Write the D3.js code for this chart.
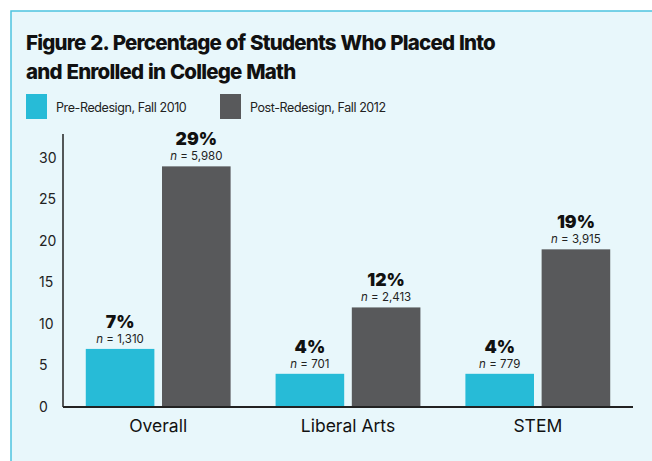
<!DOCTYPE html>
<html>
<head>
<meta charset="utf-8">
<script src="https://cdn.jsdelivr.net/npm/d3@7"></script>
<style>
  body { margin: 0; background: #fff; }
  svg { display: block; }
</style>
</head>
<body>
<svg width="652" height="461"></svg>
<script>
var categories = ["Overall", "Liberal Arts", "STEM"];
var seriesNames = ["Pre-Redesign, Fall 2010", "Post-Redesign, Fall 2012"];
var preValues = [7, 4, 4];
var postValues = [29, 12, 19];
var preN = ["1,310", "701", "779"];
var postN = ["5,980", "2,413", "3,915"];
var yTicks = [0, 5, 10, 15, 20, 25, 30];
var colors = ["#27bbd7", "#58595b"];

function main() {
    var svg = d3.select("svg");

    // panel
    svg.append("rect")
       .attr("x", 11).attr("y", 11)
       .attr("width", 660).attr("height", 470)
       .attr("fill", "#e8f7fb")
       .attr("stroke", "#4cc4e0")
       .attr("stroke-width", 1.5);

    var title = svg.append("text")
       .attr("x", 26)
       .attr("font-family", "Inter, sans-serif")
       .attr("font-weight", 800)
       .attr("font-size", "20.5px")
       .attr("letter-spacing", "-0.8px")
       .attr("word-spacing", "1px")
       .attr("fill", "#111");
    title.append("tspan").attr("x", 26).attr("y", 50).text("Figure 2. Percentage of Students Who Placed Into");
    title.append("tspan").attr("x", 26).attr("y", 79).text("and Enrolled in College Math");

    // legend
    var legend = svg.selectAll(".legend")
       .data(seriesNames)
       .enter().append("g")
       .attr("class", "legend")
       .attr("transform", function(d, i) { return "translate(" + (i === 0 ? 26 : 220) + ",94)"; });
    legend.append("rect")
       .attr("width", 21).attr("height", 25)
       .attr("fill", function(d, i) { return colors[i]; });
    legend.append("text")
       .attr("x", 30).attr("y", 18)
       .attr("font-family", "Inter, sans-serif")
       .attr("font-size", "12.5px")
       .attr("letter-spacing", "-0.4px")
       .attr("fill", "#222")
       .text(function(d) { return d; });

    var x0 = 63, x1 = 633, yBase = 407;
    var xScale = d3.scaleBand().domain(categories).range([x0, x1]).paddingInner(0.237).paddingOuter(0.12);
    var xSub = d3.scaleBand().domain([0, 1]).range([0, xScale.bandwidth()]).paddingInner(0.1);
    var yScale = d3.scaleLinear().domain([0, 32.9]).range([yBase, 134]);

    var g = svg.append("g");

    // y axis
    g.append("line")
     .attr("x1", x0).attr("x2", x0)
     .attr("y1", yScale(32.9)).attr("y2", yBase)
     .attr("stroke", "#222").attr("stroke-width", 1.5);
    g.selectAll(".ytick")
     .data(yTicks)
     .enter().append("text")
     .attr("class", "ytick")
     .attr("x", 39)
     .attr("y", function(d) { return yScale(d); })
     .attr("dy", "0.35em")
     .attr("font-family", "Inter, sans-serif")
     .attr("font-size", "14px")
     .attr("fill", "#222")
     .text(function(d) { return d; });

    var data = categories.map(function(c, i) {
        return { cat: c, values: [preValues[i], postValues[i]], ns: [preN[i], postN[i]] };
    });

    var groups = g.selectAll(".grp")
     .data(data)
     .enter().append("g")
     .attr("class", "grp")
     .attr("transform", function(d) { return "translate(" + xScale(d.cat) + ",0)"; });

    var bars = groups.selectAll(".bar")
     .data(function(d) { return d.values.map(function(v, j) { return { v: v, n: d.ns[j], j: j }; }); })
     .enter().append("g");

    bars.append("rect")
     .attr("x", function(d) { return xSub(d.j); })
     .attr("y", function(d) { return yScale(d.v); })
     .attr("width", xSub.bandwidth())
     .attr("height", function(d) { return yBase - yScale(d.v); })
     .attr("fill", function(d) { return colors[d.j]; });

    bars.append("text")
     .attr("x", function(d) { return xSub(d.j) + xSub.bandwidth() / 2; })
     .attr("y", function(d) { return yScale(d.v) - 21; })
     .attr("text-anchor", "middle")
     .attr("font-family", "Inter, sans-serif")
     .attr("font-weight", 900)
     .attr("font-size", "17.5px")
     .attr("fill", "#111")
     .text(function(d) { return d.v + "%"; });

    var nt = bars.append("text")
     .attr("x", function(d) { return xSub(d.j) + xSub.bandwidth() / 2; })
     .attr("y", function(d) { return yScale(d.v) - 6; })
     .attr("text-anchor", "middle")
     .attr("font-family", "Inter, sans-serif")
     .attr("font-size", "11.5px")
     .attr("fill", "#222");
    nt.append("tspan").attr("font-style", "italic").text("n");
    nt.append("tspan").text(function(d) { return " = " + d.n; });

    // x axis
    g.append("line")
     .attr("x1", x0).attr("x2", x1)
     .attr("y1", yBase).attr("y2", yBase)
     .attr("stroke", "#222").attr("stroke-width", 2);

    g.selectAll(".xlab")
     .data(categories)
     .enter().append("text")
     .attr("class", "xlab")
     .attr("x", function(d) { return xScale(d) + xScale.bandwidth() / 2; })
     .attr("y", 432)
     .attr("text-anchor", "middle")
     .attr("font-family", "Inter, sans-serif")
     .attr("font-size", "17.5px")
     .attr("fill", "#111")
     .text(function(d) { return d; });
}
main();
</script>
</body>
</html>
